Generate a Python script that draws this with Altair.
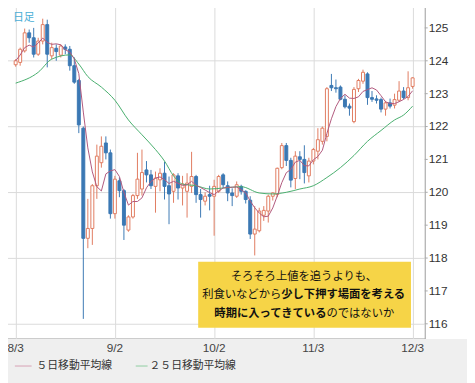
import altair as alt
import pandas as pd

# ---------------- data ----------------
opens = [123.88, 123.95, 124.30, 124.85, 124.70, 124.20, 124.60, 125.10, 124.15, 124.38,
         124.17, 124.42, 124.35, 123.85, 123.40, 121.95, 118.60, 118.90, 120.20, 120.90,
         121.50, 121.20, 119.35, 120.35, 120.05, 118.85, 119.25, 119.90, 120.10, 120.68,
         120.53, 120.18, 120.38, 120.58, 120.20, 120.03, 120.50, 120.13, 120.03, 120.18,
         120.48, 119.93, 119.73, 119.93, 119.88, 120.03, 120.53, 120.20, 119.98, 119.88,
         120.18, 120.03, 119.76, 118.73, 118.83, 119.30, 119.43, 119.88, 119.93, 120.75,
         121.42, 120.97, 120.42, 121.08, 121.00, 120.50, 120.95, 121.25, 121.55, 121.70,
         123.25, 123.18, 123.20, 122.83, 122.62, 122.15, 123.15, 123.38, 123.60, 122.88,
         122.84, 122.82, 122.53, 122.72, 122.65, 122.80, 123.08, 122.88, 123.22]
highs = [124.05, 124.40, 124.98, 124.95, 125.00, 124.70, 125.28, 125.25, 124.55, 124.50,
         124.50, 124.50, 124.45, 124.10, 123.45, 122.00, 119.80, 120.25, 121.45, 121.70,
         121.70, 121.30, 120.50, 120.45, 120.10, 119.30, 119.95, 121.20, 121.30, 120.95,
         120.68, 120.63, 120.73, 120.93, 120.48, 120.58, 120.58, 120.50, 120.58, 121.23,
         120.53, 120.10, 120.00, 120.20, 120.38, 120.53, 120.58, 120.33, 120.12, 120.33,
         120.23, 120.06, 119.88, 119.58, 119.53, 119.58, 119.93, 120.00, 120.75, 121.50,
         121.50, 121.05, 121.25, 121.25, 121.43, 121.05, 121.35, 121.95, 122.00, 123.20,
         123.60, 123.43, 123.25, 122.95, 122.70, 123.20, 123.45, 123.73, 123.65, 123.08,
         122.95, 122.88, 122.78, 122.85, 123.00, 123.38, 123.20, 123.68, 123.50]
lows = [123.82, 123.85, 124.25, 124.55, 124.10, 124.15, 124.50, 123.80, 124.05, 124.00,
        124.10, 124.20, 123.70, 123.30, 121.80, 116.15, 118.30, 118.40, 119.80, 120.75,
        121.00, 119.20, 119.20, 119.85, 118.55, 118.80, 119.20, 119.80, 119.90, 120.30,
        120.10, 119.38, 120.03, 119.78, 119.03, 119.68, 119.78, 119.60, 119.23, 119.98,
        119.68, 119.23, 119.60, 119.45, 118.68, 119.98, 120.13, 119.73, 119.58, 119.83,
        119.93, 119.66, 118.58, 118.08, 118.78, 119.13, 119.08, 119.75, 119.85, 120.70,
        120.80, 120.15, 120.10, 120.40, 120.27, 120.30, 120.85, 121.00, 121.45, 121.55,
        123.08, 123.03, 122.80, 122.55, 122.33, 122.10, 123.05, 123.30, 122.66, 122.75,
        122.70, 122.43, 122.33, 122.55, 122.55, 122.75, 122.83, 122.80, 123.15]
closes = [124.00, 124.35, 124.85, 124.70, 124.20, 124.60, 125.10, 124.20, 124.40, 124.28,
          124.45, 124.35, 123.85, 123.35, 122.05, 118.60, 118.90, 120.20, 121.10, 121.40,
          121.20, 119.35, 120.40, 120.05, 119.00, 119.25, 119.90, 120.40, 120.60, 120.53,
          120.20, 120.43, 120.58, 120.18, 119.95, 120.53, 120.13, 120.25, 120.28, 120.48,
          119.93, 119.78, 119.88, 119.88, 120.18, 120.48, 120.23, 119.98, 119.90, 120.23,
          120.03, 119.78, 118.73, 118.88, 119.43, 119.45, 119.88, 119.98, 120.73, 121.42,
          120.97, 120.37, 121.10, 121.00, 120.60, 120.95, 121.30, 121.60, 121.95, 123.15,
          123.18, 123.15, 122.83, 122.60, 122.56, 123.13, 123.40, 123.65, 122.88, 122.83,
          122.80, 122.53, 122.72, 122.62, 122.82, 123.08, 122.88, 123.18, 123.48]

# 25-day moving average at these trading-day positions
ma25_idx = [0, 5, 8, 12, 14, 16, 19, 22, 25, 28, 31, 33, 35, 37, 40, 43, 46, 50,
            54, 57, 60, 63, 66, 69, 72, 75, 78, 81, 84, 86, 88]
ma25_val = [123.32, 123.65, 124.05, 124.18, 123.90, 123.52, 123.20, 122.80, 122.20,
            121.75, 121.30, 120.95, 120.50, 120.25, 120.20, 120.10, 120.13, 120.17,
            119.98, 119.95, 120.00, 120.10, 120.20, 120.45, 120.75, 121.12, 121.55,
            121.88, 122.20, 122.35, 122.62]

x_tick_idx = [0, 22, 44, 66, 88]
x_tick_labels = ["8/3", "9/2", "10/2", "11/3", "12/3"]
y_ticks = [116, 117, 118, 119, 120, 121, 122, 123, 124, 125]

legend_labels = ["５日移動平均線", "２５日移動平均線"]
panel_label = "日足"
note_line1 = "そろそろ上値を追うよりも、"
note_line2 = ["利食いなどから", "少し下押す場面を考える"]
note_line3 = ["時期に入ってきている", "のではないか"]

# ---------------- styling ----------------
RED = "#e07b60"
BLUE = "#3b78b4"
MA5_C = "#b0587c"
MA25_C = "#46ad6c"
GRID = "#dadada"
JP = "Noto Sans CJK JP"
NUM = "Liberation Sans"

W, H = 430, 340
X_DOM = [-1.916, 89.6]
Y_DOM = [115.553, 125.717]
xs = alt.Scale(domain=X_DOM, nice=False, zero=False)
ys = alt.Scale(domain=Y_DOM, nice=False, zero=False)

df = pd.DataFrame({"i": list(range(len(opens))), "open": opens, "high": highs,
                   "low": lows, "close": closes})
df["dir"] = ["up" if c >= o else "down" for o, c in zip(opens, closes)]

x_axis = alt.Axis(values=x_tick_idx, grid=True, labels=False, ticks=False, domain=False,
                  title=None, gridColor=GRID)
y_axis = alt.Axis(values=y_ticks, grid=True, labels=False, ticks=False, domain=False,
                  title=None, orient="right", gridColor=GRID)

base = alt.Chart(df)

one = pd.DataFrame({"a": [0]})

band = alt.Chart(one).mark_rect(color="#efefef").encode(
    x=alt.value(-10), x2=alt.value(490), y=alt.value(340.5), y2=alt.value(400))

wicks = base.mark_rule(strokeWidth=1).encode(
    x=alt.X("i:Q", scale=xs, axis=x_axis),
    y=alt.Y("low:Q", scale=ys, axis=y_axis),
    y2="high:Q",
    color=alt.Color("dir:N", scale=alt.Scale(domain=["up", "down"], range=[RED, BLUE]), legend=None),
)

bodies = base.mark_bar(size=3, strokeWidth=1).encode(
    x=alt.X("i:Q", scale=xs),
    y=alt.Y("open:Q", scale=ys),
    y2="close:Q",
    fill=alt.Fill("dir:N", scale=alt.Scale(domain=["up", "down"], range=["#ffffff", BLUE]), legend=None),
    stroke=alt.Stroke("dir:N", scale=alt.Scale(domain=["up", "down"], range=[RED, BLUE]), legend=None),
)

ma5 = base.transform_window(
    ma5="mean(close)", frame=[-4, 0], sort=[alt.SortField("i")]
).mark_line(color=MA5_C, strokeWidth=1).encode(
    x=alt.X("i:Q", scale=xs), y=alt.Y("ma5:Q", scale=ys))

ma25 = alt.Chart(pd.DataFrame({"i": ma25_idx, "v": ma25_val})).mark_line(
    color=MA25_C, strokeWidth=1, interpolate="monotone").encode(
    x=alt.X("i:Q", scale=xs), y=alt.Y("v:Q", scale=ys))

# right value axis (labels + small ticks)
ydf = pd.DataFrame({"v": y_ticks})
y_tick_marks = alt.Chart(ydf).mark_rule(color="#aaaaaa").encode(
    x=alt.value(430), x2=alt.value(433), y=alt.Y("v:Q", scale=ys))
y_labels = alt.Chart(ydf).mark_text(align="left", baseline="middle", fontSize=12,
                                    color="#333333", font=NUM).encode(
    x=alt.value(434), y=alt.Y("v:Q", scale=ys), text=alt.Text("v:Q", format="d"))

# bottom date labels
xdf = pd.DataFrame({"i": x_tick_idx, "lab": x_tick_labels})
x_labels = alt.Chart(xdf).mark_text(align="center", baseline="middle", fontSize=12,
                                    color="#444444", font=NUM).encode(
    x=alt.X("i:Q", scale=xs), y=alt.value(350), text="lab:N")

# legend
leg_rule5 = alt.Chart(one).mark_rule(color="#d6a0b4", strokeWidth=1).encode(
    x=alt.value(13), x2=alt.value(30), y=alt.value(368))
leg_rule25 = alt.Chart(one).mark_rule(color="#8fcda0", strokeWidth=1).encode(
    x=alt.value(136), x2=alt.value(148), y=alt.value(368))
leg_text5 = alt.Chart(one).mark_text(align="left", baseline="middle", fontSize=11,
                                     color="#333333", font=JP, text=legend_labels[0]).encode(
    x=alt.value(35), y=alt.value(368))
leg_text25 = alt.Chart(one).mark_text(align="left", baseline="middle", fontSize=11,
                                      color="#333333", font=JP, text=legend_labels[1]).encode(
    x=alt.value(150), y=alt.value(368))

panel = alt.Chart(one).mark_text(align="left", baseline="middle", fontSize=11,
                                 color="#4aaed6", font=JP, text=panel_label).encode(
    x=alt.value(11), y=alt.value(14))

# annotation box
box = alt.Chart(one).mark_rect(color="#f6d447").encode(
    x=alt.value(199.5), x2=alt.value(416), y=alt.value(262), y2=alt.value(329))

FS = 11.5
CX = 307
def txt(s, x, y, align, bold):
    return alt.Chart(one).mark_text(align=align, baseline="middle", fontSize=FS, color="#111111",
                                    font=JP, fontWeight="bold" if bold else "normal",
                                    text=s).encode(x=alt.value(x), y=alt.value(y))

w2 = FS * (len(note_line2[0]) + len(note_line2[1]))
b2 = CX - w2 / 2 + FS * len(note_line2[0])
w3 = FS * (len(note_line3[0]) + len(note_line3[1]))
b3 = CX - w3 / 2 + FS * len(note_line3[0])

t1 = txt(note_line1, CX, 277, "center", False)
t2a = txt(note_line2[0], b2, 296, "right", False)
t2b = txt(note_line2[1], b2, 296, "left", True)
t3a = txt(note_line3[0], b3, 315, "right", True)
t3b = txt(note_line3[1], b3, 315, "left", False)

chart = alt.layer(
    wicks, bodies, band, ma25, ma5, y_tick_marks, y_labels, x_labels,
    leg_rule5, leg_rule25, leg_text5, leg_text25, panel, box, t1, t2a, t2b, t3a, t3b
).properties(
    width=W, height=H,
    autosize=alt.AutoSizeParams(type="none"),
    padding={"left": -6, "top": -7, "right": 43, "bottom": 42},
    background="#ffffff",
).configure_view(stroke="#9a9a9a", strokeWidth=1)

chart.save("out.html", embed_options={"renderer": "svg", "actions": False})
